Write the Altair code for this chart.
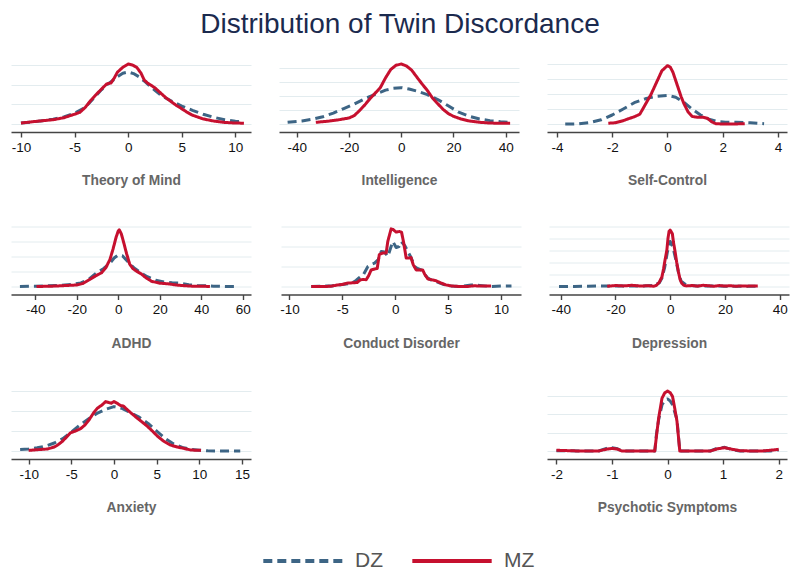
import altair as alt
import pandas as pd

DZ_COLOR = "#3d6585"
MZ_COLOR = "#c6102f"
FONT = "Liberation Sans"

# ---------------- data (densities in gridline units) ----------------
tom_mz_x = [-10, -8.5, -7, -6, -5, -4.5, -4, -3.5, -3, -2.5, -2, -1.6, -1.3, -1, -0.5, 0, 0.4, 0.8, 1.2, 1.5, 1.8, 2.5, 3, 3.5, 4, 4.5, 5, 5.5, 6, 7, 8, 9, 10, 10.8]
tom_mz_y = [0.05, 0.14, 0.22, 0.32, 0.5, 0.6, 0.85, 1.2, 1.5, 1.78, 2.05, 2.1, 2.35, 2.65, 2.9, 3.07, 3.02, 2.9, 2.6, 2.25, 2.1, 1.85, 1.6, 1.35, 1.15, 0.95, 0.78, 0.6, 0.45, 0.26, 0.15, 0.08, 0.05, 0.04]
tom_dz_x = [-10, -9, -8, -7, -6, -5, -4, -3.5, -3, -2.5, -2, -1.5, -1, -0.5, 0, 0.5, 1, 1.5, 2, 2.5, 3, 3.5, 4, 5, 6, 7, 8, 9, 10, 10.8]
tom_dz_y = [0.05, 0.1, 0.17, 0.25, 0.36, 0.55, 0.85, 1.15, 1.45, 1.75, 2.0, 2.2, 2.42, 2.6, 2.66, 2.58, 2.42, 2.2, 1.95, 1.72, 1.5, 1.33, 1.18, 0.92, 0.7, 0.5, 0.34, 0.22, 0.14, 0.1]

iq_mz_x = [-32.7, -28, -24, -20, -18, -16, -14, -12, -10, -8, -6, -4, -2, 0, 2, 4, 6, 8, 10, 12, 14, 16, 18, 20, 23, 26, 30, 34, 38, 41.7]
iq_mz_y = [0.12, 0.2, 0.3, 0.43, 0.6, 0.95, 1.35, 1.8, 2.2, 2.6, 3.3, 3.9, 4.2, 4.29, 4.15, 3.85, 3.35, 2.86, 2.4, 1.85, 1.45, 1.05, 0.75, 0.55, 0.35, 0.22, 0.12, 0.07, 0.05, 0.05]
iq_dz_x = [-43.5, -38, -34, -30, -26, -22, -18, -14, -10, -6, -3, 0, 3, 6, 10, 14, 18, 22, 26, 30, 34, 38, 41]
iq_dz_y = [0.12, 0.22, 0.34, 0.52, 0.78, 1.1, 1.42, 1.8, 2.12, 2.42, 2.55, 2.6, 2.5, 2.35, 2.1, 1.75, 1.3, 0.85, 0.55, 0.36, 0.24, 0.16, 0.12]

sc_mz_x = [-2.14, -1.9, -1.6, -1.4, -1.2, -1.0, -0.8, -0.6, -0.4, -0.2, 0, 0.1, 0.2, 0.3, 0.4, 0.5, 0.6, 0.75, 0.9, 1.1, 1.3, 1.45, 1.6, 1.75, 2.0, 2.4, 2.8]
sc_mz_y = [0.05, 0.08, 0.22, 0.36, 0.48, 0.65, 1.3, 1.95, 2.75, 3.55, 3.89, 3.8, 3.45, 2.9, 2.35, 1.8, 1.35, 0.8, 0.5, 0.45, 0.45, 0.38, 0.15, 0.02, 0.0, 0.0, 0.02]
sc_dz_x = [-3.7, -3.2, -2.8, -2.4, -2.0, -1.6, -1.2, -0.8, -0.4, 0, 0.3, 0.6, 0.9, 1.2, 1.5, 1.8, 2.1, 2.5, 3.0, 3.5]
sc_dz_y = [0.0, 0.01, 0.1, 0.28, 0.6, 1.0, 1.42, 1.68, 1.85, 1.91, 1.78, 1.45, 0.98, 0.6, 0.32, 0.18, 0.12, 0.11, 0.08, 0.02]

adhd_mz_x = [-39.4, -32, -26, -20, -17, -14, -11, -8, -6, -4, -2.5, -1, 0, 0.5, 1.5, 2.5, 4, 5.5, 7, 9, 11, 13, 16, 20, 24, 28, 32, 36, 40, 44.2]
adhd_mz_y = [0.0, 0.02, 0.06, 0.1, 0.2, 0.45, 0.7, 0.92, 1.25, 1.8, 2.5, 3.3, 3.7, 3.78, 3.5, 3.0, 2.2, 1.5, 1.2, 1.0, 0.85, 0.62, 0.35, 0.22, 0.18, 0.1, 0.05, 0.02, 0.02, 0.0]
adhd_dz_x = [-47.4, -40, -34, -28, -22, -18, -14, -10, -7, -4, -2, 0, 2, 4, 6, 8, 11, 14, 18, 22, 26, 30, 34, 38, 42, 46, 52, 57]
adhd_dz_y = [0.0, 0.02, 0.05, 0.08, 0.14, 0.24, 0.5, 0.95, 1.2, 1.55, 1.9, 2.1, 2.05, 1.75, 1.45, 1.2, 0.9, 0.65, 0.42, 0.3, 0.25, 0.22, 0.12, 0.06, 0.05, 0.02, 0.0, 0.0]

cd_mz_x = [-7.94, -6.5, -6, -5.4, -5, -4.5, -4.16, -3.6, -3.3, -3.06, -2.74, -2.5, -2.27, -1.9, -1.7, -1.5, -1.2, -0.85, -0.7, -0.5, -0.38, -0.2, 0.09, 0.4, 0.6, 0.8, 1.04, 1.3, 1.5, 1.7, 1.98, 2.3, 2.6, 2.8, 3.09, 3.5, 3.8, 4.35, 4.8, 5.3, 6, 6.87, 7.5, 8, 9.07]
cd_mz_y = [0.0, 0.0, 0.02, 0.08, 0.1, 0.17, 0.18, 0.2, 0.33, 0.35, 0.34, 0.55, 0.83, 0.88, 0.9, 1.6, 1.67, 1.68, 2.25, 2.65, 2.88, 2.85, 2.72, 2.75, 2.72, 2.2, 1.42, 1.42, 1.45, 1.1, 0.83, 0.82, 0.83, 0.6, 0.38, 0.33, 0.3, 0.17, 0.08, 0.03, 0.0, 0.0, 0.04, 0.02, 0.02]
cd_dz_x = [-7.94, -6, -5, -4.16, -3.7, -3.37, -3.0, -2.58, -2.2, -1.95, -1.6, -1.32, -1.0, -0.69, -0.45, -0.22, 0.09, 0.35, 0.57, 0.9, 1.2, 1.5, 1.83, 2.1, 2.46, 2.8, 3.09, 3.5, 4.0, 4.6, 5.3, 6.2, 7.2, 8, 9.07, 10, 11]
cd_dz_y = [0.0, 0.03, 0.1, 0.15, 0.3, 0.45, 0.6, 1.0, 1.12, 1.17, 1.35, 1.75, 1.72, 1.5, 1.9, 2.25, 1.95, 2.0, 2.25, 2.05, 1.75, 1.45, 1.0, 0.9, 0.83, 0.6, 0.42, 0.3, 0.22, 0.1, 0.03, 0.0, 0.08, 0.05, 0.0, 0.02, 0.03]

dep_mz_x = [-23, -20, -17, -14, -11, -8, -6, -5, -4, -3, -2.4, -1.8, -1.2, -0.8, -0.4, 0, 0.4, 0.8, 1.2, 1.8, 2.4, 3, 3.6, 4.2, 5, 6, 8, 10, 12, 14, 16, 18, 20, 22, 24, 26, 28, 30, 32]
dep_mz_y = [0.02, 0.08, 0.05, 0.1, 0.04, 0.06, 0.02, 0.1, 0.35, 0.8, 1.5, 2.3, 3.05, 4.0, 4.6, 4.7, 4.55, 4.4, 3.7, 2.9, 2.0, 1.25, 0.6, 0.28, 0.1, 0.05, 0.08, 0.03, 0.1, 0.06, 0.02, 0.08, 0.04, 0.06, 0.02, 0.05, 0.03, 0.04, 0.05]
dep_dz_x = [-40.6, -35, -30, -25, -20, -15, -10, -6, -4, -3, -2, -1, 0, 1, 2, 3, 4, 6, 10, 15, 20, 25, 30, 32]
dep_dz_y = [0.0, 0.0, 0.02, 0.04, 0.04, 0.05, 0.05, 0.08, 0.3, 0.7, 1.6, 2.9, 3.75, 3.3, 2.3, 1.2, 0.45, 0.1, 0.05, 0.04, 0.03, 0.03, 0.02, 0.02]

anx_mz_x = [-10, -8.5, -7.8, -7, -6.6, -6, -5.1, -4.5, -3.9, -3.4, -2.9, -2.4, -1.95, -1.4, -0.98, -0.6, -0.3, 0, 0.4, 0.78, 1.1, 1.37, 2, 2.7, 3.3, 3.9, 4.5, 5.1, 5.8, 6.6, 7.4, 8.2, 9, 10.2]
anx_mz_y = [0.03, 0.08, 0.1, 0.2, 0.3, 0.5, 0.91, 1.0, 1.12, 1.3, 1.57, 1.9, 2.14, 2.3, 2.47, 2.42, 2.39, 2.47, 2.38, 2.27, 2.25, 2.14, 1.9, 1.65, 1.45, 1.24, 1.0, 0.74, 0.5, 0.3, 0.2, 0.13, 0.05, 0.03]
anx_dz_x = [-11, -10, -9, -8, -7, -6, -5, -4, -3, -2, -1, 0, 1, 2, 3, 4, 5, 6, 7, 8, 9, 10, 11, 12, 13, 14.8]
anx_dz_y = [0.08, 0.1, 0.16, 0.25, 0.4, 0.62, 0.95, 1.3, 1.6, 1.88, 2.08, 2.22, 2.12, 1.9, 1.68, 1.38, 1.0, 0.62, 0.35, 0.18, 0.08, 0.04, 0.01, 0.0, 0.0, 0.0]

psy_x = [-2.0, -1.6, -1.24, -1.1, -1.0, -0.9, -0.82, -0.6, -0.23, -0.2, -0.16, -0.1, -0.05, 0, 0.05, 0.09, 0.13, 0.17, 0.22, 0.4, 0.77, 0.9, 1.03, 1.15, 1.3, 1.5, 1.7, 1.85, 2.0]
psy_mz_y = [0.04, 0.0, 0.0, 0.1, 0.14, 0.1, 0.0, 0.0, 0.0, 0.8, 1.79, 2.86, 3.15, 3.25, 3.15, 2.95, 2.3, 1.6, 0.0, 0.0, 0.0, 0.12, 0.18, 0.1, 0.02, 0.0, 0.0, 0.04, 0.09]
psy_dz_y = [0.02, 0.0, 0.0, 0.14, 0.18, 0.12, 0.0, 0.0, 0.0, 0.9, 1.7, 2.5, 2.75, 2.82, 2.7, 2.5, 2.1, 1.7, 0.0, 0.0, 0.0, 0.16, 0.2, 0.08, 0.0, 0.0, 0.0, 0.0, 0.06]

# name, x-domain, x-ticks, number of gridlines, series
panels = [
    ("Theory of Mind", [-10.93, 11.46], [-10, -5, 0, 5, 10], 4, tom_dz_x, tom_dz_y, tom_mz_x, tom_mz_y),
    ("Intelligence", [-46.8, 45.1], [-40, -20, 0, 20, 40], 5, iq_dz_x, iq_dz_y, iq_mz_x, iq_mz_y),
    ("Self-Control", [-4.36, 4.33], [-4, -2, 0, 2, 4], 5, sc_dz_x, sc_dz_y, sc_mz_x, sc_mz_y),
    ("ADHD", [-51.7, 64.0], [-40, -20, 0, 20, 40, 60], 5, adhd_dz_x, adhd_dz_y, adhd_mz_x, adhd_mz_y),
    ("Conduct Disorder", [-10.8, 11.9], [-10, -5, 0, 5, 10], 4, cd_dz_x, cd_dz_y, cd_mz_x, cd_mz_y),
    ("Depression", [-44.25, 43.4], [-40, -20, 0, 20, 40], 6, dep_dz_x, dep_dz_y, dep_mz_x, dep_mz_y),
    ("Anxiety", [-12.07, 16.06], [-10, -5, 0, 5, 10, 15], 4, anx_dz_x, anx_dz_y, anx_mz_x, anx_mz_y),
    ("Psychotic Symptoms", [-2.17, 2.15], [-2, -1, 0, 1, 2], 4, psy_x, psy_dz_y, psy_x, psy_mz_y),
]

W, H = 240, 60

legend = alt.Legend(
    title=None, orient="none", direction="horizontal",
    legendX=250, legendY=455,
    symbolType="stroke", symbolSize=6300, symbolStrokeWidth=4,
    labelFontSize=21, labelFont=FONT, labelColor="#555555",
    labelOffset=10, columnPadding=21, symbolOffset=0,
)


def panel(name, dom, ticks, k, dzx, dzy, mzx, mzy):
    rows = [{"x": a, "y": b, "Group": "DZ", "i": i} for i, (a, b) in enumerate(zip(dzx, dzy))]
    rows += [{"x": a, "y": b, "Group": "MZ", "i": i} for i, (a, b) in enumerate(zip(mzx, mzy))]
    df = pd.DataFrame(rows)
    top = max(k - 1, max(mzy), max(dzy))
    return alt.Chart(df).mark_line(strokeWidth=3, strokeCap="butt", strokeJoin="round").encode(
        x=alt.X("x:Q", scale=alt.Scale(domain=dom, nice=False, zero=False),
                axis=alt.Axis(values=ticks, offset=8, tickSize=5, tickColor="#444",
                              domainColor="#444", domainWidth=1.4, tickWidth=1.4,
                              labelFontSize=13.5, labelFont=FONT, labelColor="#111",
                              labelPadding=3, labelExpr="'' + datum.value",
                              title=name, titleFont=FONT, titleFontSize=13.8,
                              titleFontWeight="bold", titleColor="#666666",
                              titlePadding=20, grid=False)),
        y=alt.Y("y:Q", scale=alt.Scale(domain=[0, top], nice=False, zero=True),
                axis=alt.Axis(values=list(range(k)), labels=False, ticks=False,
                              domain=False, title=None, grid=True,
                              gridColor="#e3ecef", gridWidth=1)),
        color=alt.Color("Group:N", scale=alt.Scale(domain=["DZ", "MZ"], range=[DZ_COLOR, MZ_COLOR]),
                        legend=legend),
        strokeDash=alt.StrokeDash("Group:N", scale=alt.Scale(domain=["DZ", "MZ"], range=[[9, 5], [1, 0]]),
                                  legend=legend),
        order="i:Q",
    ).properties(width=W, height=H)


charts = [panel(*p) for p in panels]

blank = alt.Chart(pd.DataFrame({"x": [0], "y": [0]})).mark_point(opacity=0).encode(
    x=alt.X("x:Q", axis=None), y=alt.Y("y:Q", axis=None)
).properties(width=W, height=H)

row1 = alt.hconcat(charts[0], charts[1], charts[2], spacing=28)
row2 = alt.hconcat(charts[3], charts[4], charts[5], spacing=28)
row3 = alt.hconcat(charts[6], blank, charts[7], spacing=28)

chart = alt.vconcat(row1, row2, row3, spacing=38.5).resolve_scale(
    color="shared", strokeDash="shared"
).properties(
    title=alt.TitleParams("Distribution of Twin Discordance", fontSize=28, font=FONT,
                          color="#1b2a4e", fontWeight="normal", anchor="middle", offset=24),
    padding={"left": 3, "top": 2, "right": 3, "bottom": 5},
).configure_view(stroke=None)

chart.save("out.html", embed_options={"renderer": "svg", "actions": False})
